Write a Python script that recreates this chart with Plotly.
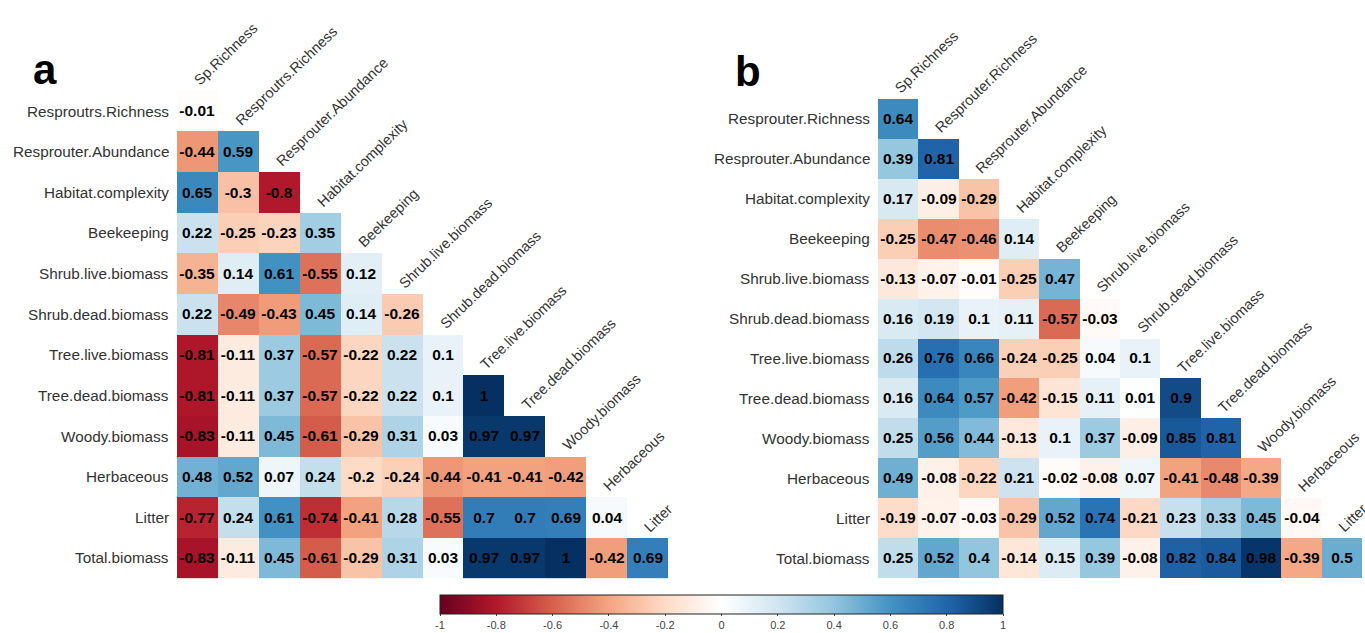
import plotly.graph_objects as go

# ---- Panel a: variable names and lower-triangle correlations ----
cols_a = ["Sp.Richness", "Resproutrs.Richness", "Resprouter.Abundance", "Habitat.complexity",
          "Beekeeping", "Shrub.live.biomass", "Shrub.dead.biomass", "Tree.live.biomass",
          "Tree.dead.biomass", "Woody.biomass", "Herbaceous", "Litter"]
rows_a = ["Resproutrs.Richness", "Resprouter.Abundance", "Habitat.complexity", "Beekeeping",
          "Shrub.live.biomass", "Shrub.dead.biomass", "Tree.live.biomass", "Tree.dead.biomass",
          "Woody.biomass", "Herbaceous", "Litter", "Total.biomass"]
corr_a = [
    [-0.01],
    [-0.44, 0.59],
    [0.65, -0.3, -0.8],
    [0.22, -0.25, -0.23, 0.35],
    [-0.35, 0.14, 0.61, -0.55, 0.12],
    [0.22, -0.49, -0.43, 0.45, 0.14, -0.26],
    [-0.81, -0.11, 0.37, -0.57, -0.22, 0.22, 0.1],
    [-0.81, -0.11, 0.37, -0.57, -0.22, 0.22, 0.1, 1],
    [-0.83, -0.11, 0.45, -0.61, -0.29, 0.31, 0.03, 0.97, 0.97],
    [0.48, 0.52, 0.07, 0.24, -0.2, -0.24, -0.44, -0.41, -0.41, -0.42],
    [-0.77, 0.24, 0.61, -0.74, -0.41, 0.28, -0.55, 0.7, 0.7, 0.69, 0.04],
    [-0.83, -0.11, 0.45, -0.61, -0.29, 0.31, 0.03, 0.97, 0.97, 1, -0.42, 0.69],
]

# ---- Panel b ----
cols_b = ["Sp.Richness", "Resprouter.Richness", "Resprouter.Abundance", "Habitat.complexity",
          "Beekeeping", "Shrub.live.biomass", "Shrub.dead.biomass", "Tree.live.biomass",
          "Tree.dead.biomass", "Woody.biomass", "Herbaceous", "Litter"]
rows_b = ["Resprouter.Richness", "Resprouter.Abundance", "Habitat.complexity", "Beekeeping",
          "Shrub.live.biomass", "Shrub.dead.biomass", "Tree.live.biomass", "Tree.dead.biomass",
          "Woody.biomass", "Herbaceous", "Litter", "Total.biomass"]
corr_b = [
    [0.64],
    [0.39, 0.81],
    [0.17, -0.09, -0.29],
    [-0.25, -0.47, -0.46, 0.14],
    [-0.13, -0.07, -0.01, -0.25, 0.47],
    [0.16, 0.19, 0.1, 0.11, -0.57, -0.03],
    [0.26, 0.76, 0.66, -0.24, -0.25, 0.04, 0.1],
    [0.16, 0.64, 0.57, -0.42, -0.15, 0.11, 0.01, 0.9],
    [0.25, 0.56, 0.44, -0.13, 0.1, 0.37, -0.09, 0.85, 0.81],
    [0.49, -0.08, -0.22, 0.21, -0.02, -0.08, 0.07, -0.41, -0.48, -0.39],
    [-0.19, -0.07, -0.03, -0.29, 0.52, 0.74, -0.21, 0.23, 0.33, 0.45, -0.04],
    [0.25, 0.52, 0.4, -0.14, 0.15, 0.39, -0.08, 0.82, 0.84, 0.98, -0.39, 0.5],
]

colorbar_ticks = [-1, -0.8, -0.6, -0.4, -0.2, 0, 0.2, 0.4, 0.6, 0.8, 1]

rdbu = ["#67001F", "#B2182B", "#D6604D", "#F4A582", "#FDDBC7", "#FFFFFF",
        "#D1E5F0", "#92C5DE", "#4393C3", "#2166AC", "#053061"]
colorscale = [[i / (len(rdbu) - 1), c] for i, c in enumerate(rdbu)]

FONT = "Liberation Sans, Arial, sans-serif"
LABEL_COLOR = "#333333"


def square(tri, ncol):
    z, t = [], []
    for row in tri:
        z.append(list(row) + [None] * (ncol - len(row)))
        t.append([f"{v:g}" for v in row] + [""] * (ncol - len(row)))
    return z, t


fig = go.Figure()
annotations = []

panels = [
    (cols_a, rows_a, corr_a, "x", "y", True),
    (cols_b, rows_b, corr_b, "x2", "y2", False),
]
for cols, rows, tri, xr, yr, show in panels:
    z, t = square(tri, len(cols))
    fig.add_trace(go.Heatmap(
        z=z, x=list(range(len(cols))), y=list(range(len(rows))),
        text=t, texttemplate="<b>%{text}</b>",
        textfont=dict(family=FONT, size=15.5, color="black"),
        colorscale=colorscale, zmin=-1, zmax=1,
        xaxis=xr, yaxis=yr, hoverongaps=False,
        showscale=show,
        colorbar=dict(
            orientation="h", x=721.5 / 1365, xanchor="center",
            y=1 - 595 / 633, yanchor="top", xpad=0, ypad=0,
            len=563 / 1365, lenmode="fraction", thickness=19,
            outlinewidth=1, outlinecolor="#222222",
            tickvals=colorbar_ticks, ticktext=[f"{v:g}" for v in colorbar_ticks],
            ticks="outside", ticklen=2, tickcolor="#444444",
            tickfont=dict(family=FONT, size=11, color="#444444"),
        ),
    ))
    # row labels on the left
    for i, name in enumerate(rows):
        annotations.append(dict(
            x=-0.5, y=i, xref=xr, yref=yr, text=name, showarrow=False,
            xanchor="right", yanchor="middle", xshift=-6,
            font=dict(family=FONT, size=15.3, color=LABEL_COLOR)))
    # rotated column labels sitting above the diagonal
    for j, name in enumerate(cols):
        annotations.append(dict(
            x=j, y=j - 0.5, xref=xr, yref=yr, text=name, showarrow=False,
            xanchor="left", yanchor="bottom", textangle=-44,
            xshift=-9, yshift=0,
            font=dict(family=FONT, size=14.5, color=LABEL_COLOR)))

# panel letters
annotations.append(dict(x=45 / 1365, y=1 - 70 / 633, xref="paper", yref="paper", text="<b>a</b>",
                        showarrow=False, xanchor="center", yanchor="middle",
                        font=dict(family=FONT, size=42, color="black")))
annotations.append(dict(x=748 / 1365, y=1 - 72 / 633, xref="paper", yref="paper", text="<b>b</b>",
                        showarrow=False, xanchor="center", yanchor="middle",
                        font=dict(family=FONT, size=42, color="black")))

axis_off = dict(showgrid=False, zeroline=False, showticklabels=False, ticks="", showline=False)
fig.update_layout(
    width=1365, height=633, autosize=False,
    margin=dict(l=0, r=0, t=0, b=0, autoexpand=False),
    paper_bgcolor="white", plot_bgcolor="white",
    xaxis=dict(domain=[177 / 1365, 668 / 1365], range=[-0.5, 11.5], **axis_off),
    yaxis=dict(domain=[1 - 578.3 / 633, 1 - 90.7 / 633], range=[11.5, -0.5], **axis_off),
    xaxis2=dict(domain=[878 / 1365, 1362 / 1365], range=[-0.5, 11.5], **axis_off),
    yaxis2=dict(domain=[1 - 578 / 633, 1 - 99 / 633], range=[11.5, -0.5], **axis_off),
    annotations=annotations,
    showlegend=False,
)

fig.write_html("out.html")
